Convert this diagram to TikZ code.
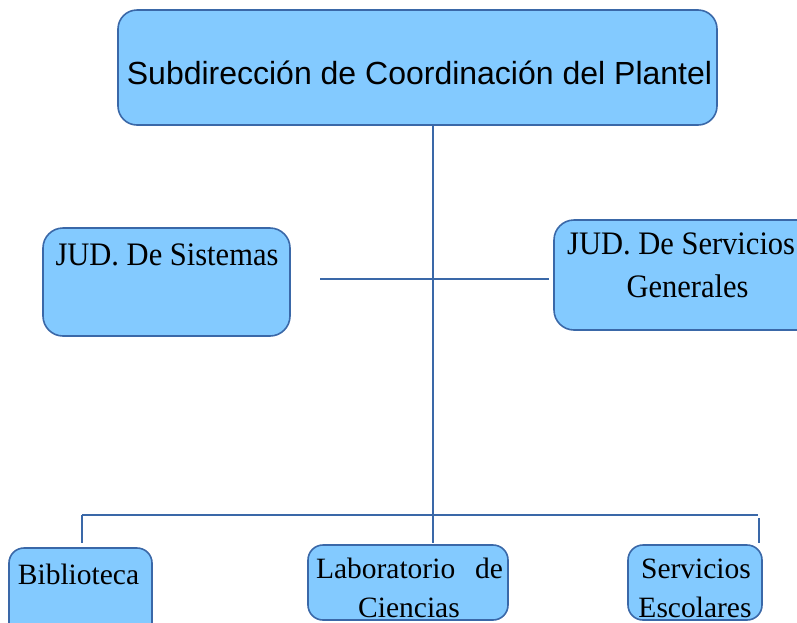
\documentclass[tikz,border=0pt]{standalone}
\usepackage{fontspec}
\setmainfont{Liberation Serif}
\newfontfamily\arialfont{Liberation Sans}
\newfontfamily\condserif[FakeStretch=0.93]{Liberation Serif}
\definecolor{boxfill}{HTML}{83CAFF}
\definecolor{boxline}{HTML}{3A68A8}
\tikzset{
  orgbox/.style={draw=boxline, fill=boxfill, line width=1.6pt, rectangle, inner sep=0pt},
  conn/.style={draw=boxline, line width=1.4pt},
  serif/.style={font=\fontsize{29.5}{36}\selectfont, inner sep=0pt, anchor=base},
  judserif/.style={font=\condserif\fontsize{32.8}{38}\selectfont, inner sep=0pt, anchor=base},
  sans/.style={font=\arialfont\fontsize{32}{38}\selectfont, inner sep=0pt, anchor=base},
}
\begin{document}
\begin{tikzpicture}[x=1pt,y=-1pt]
\useasboundingbox (0,0) rectangle (797,622);
\clip (0,0) rectangle (797,622);
% boxes
\draw[orgbox, rounded corners=19pt] (118,10) rectangle (717,125);
\draw[orgbox, rounded corners=20pt] (43,228) rectangle (290,336);
\draw[orgbox, rounded corners=20pt] (554,220) rectangle (822,330);
\draw[orgbox, rounded corners=15pt] (9,548) rectangle (152,640);
\draw[orgbox, rounded corners=15pt] (308,545) rectangle (508,620);
\draw[orgbox, rounded corners=15pt] (628,545) rectangle (762,620);
% texts
\node[sans] (ttop) at (419.5,84.3) {Subdirección de Coordinación del Plantel};
\node[judserif] (tsis) at (167,265) {JUD. De Sistemas};
\node[judserif, anchor=base west] (tgen1) at (567,254) {JUD. De Servicios};
\node[judserif] (tgen2) at (687.5,297) {Generales};
\node[serif] (tbib) at (78.5,584.5) {Biblioteca};
\node[serif] (tlab1) at (409.5,578) {\makebox[187pt][s]{Laboratorio\hfill de}};
\node[serif] (tlab2) at (409,617) {Ciencias};
\node[serif] (tser1) at (696,578) {Servicios};
\node[serif] (tser2) at (695,617) {Escolares};
% connector coordinates
\coordinate (topb) at (433,125);
\coordinate (jun) at (433,515);
\coordinate (hl) at (320,279);
\coordinate (hr) at (549,279);
\coordinate (bl) at (82,515);
\coordinate (br) at (758,515);
\coordinate (dl) at (82,543);
\coordinate (dm) at (433,543);
\coordinate (drt) at (759,518);
\coordinate (dr) at (759,543);
% connectors
\draw[conn] (topb) -- (jun);
\draw[conn] (hl) -- (hr);
\draw[conn] (bl) -- (br);
\draw[conn] (bl) -- (dl);
\draw[conn] (jun) -- (dm);
\draw[conn] (drt) -- (dr);
\end{tikzpicture}
\end{document}
